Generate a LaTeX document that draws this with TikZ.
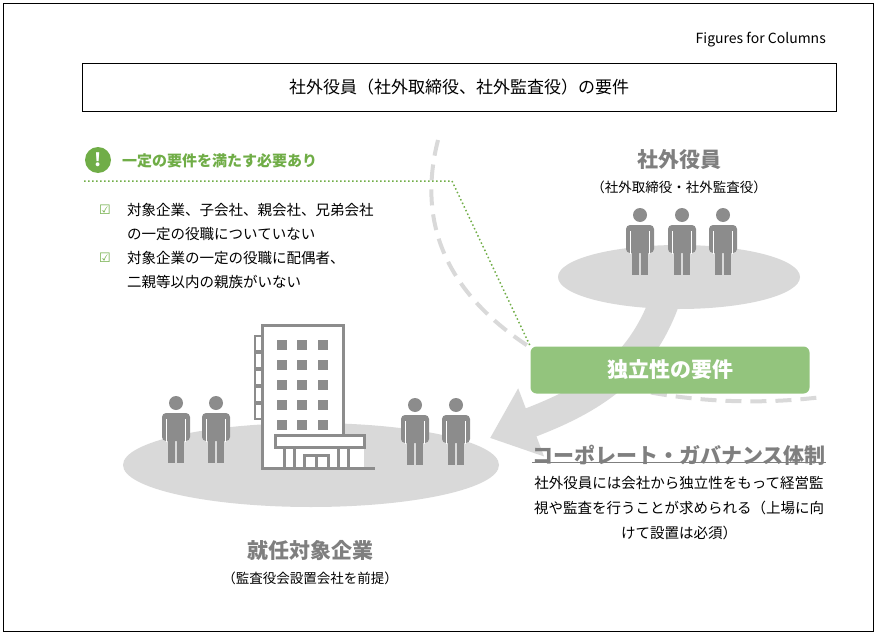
\documentclass[tikz,border=0pt]{standalone}
\usepackage{fontspec}
\setmainfont{Noto Sans CJK JP}
\newfontfamily\symf{DejaVu Sans}
\usetikzlibrary{arrows.meta}
\definecolor{lg}{RGB}{217,217,217}
\definecolor{fg}{RGB}{140,140,140}
\definecolor{tg}{RGB}{127,127,127}
\definecolor{gr}{RGB}{112,173,71}
\definecolor{gb}{RGB}{147,196,125}
\tikzset{
  person/.pic={
    \fill[fg] (0,0) circle (7);
    \fill[fg,rounded corners=4] (-14,10) rectangle (14,38);
    \fill[fg] (-8,30) rectangle (-1,60);
    \fill[fg] (1,30) rectangle (8,60);
    \draw[white,line width=1.2] (-9.5,16) -- (-9.5,39) (9.5,16) -- (9.5,39);
  },
  txt/.style={font=\fontsize{14.5}{16}\selectfont, inner sep=0},
  big/.style={font=\fontsize{21}{23}\selectfont\bfseries, text=tg, inner sep=0},
}
\begin{document}
\begin{tikzpicture}[x=1pt,y=-1pt]
\useasboundingbox (0,0) rectangle (876,634);
\draw[line width=0.8] (3,3) rectangle (873,631);
\node[anchor=east,font=\fontsize{14}{16}\selectfont,inner sep=0] (fc) at (826,40) {Figures for Columns};
\node[draw,line width=0.8,minimum width=754,minimum height=48,font=\fontsize{17}{19}\selectfont] (title) at (459,87) {社外役員（社外取締役、社外監査役）の要件};
% dashed curve
\draw[lg,line width=4,dash pattern=on 16 off 9] (438,140) .. controls (415,230) and (450,310) .. (570,370) .. controls (660,405) and (760,405) .. (822,397);
% ellipses
\fill[lg] (679,277) ellipse (121 and 32);
\fill[lg] (311,465) ellipse (188 and 42);
% big arrow
\draw[lg,line width=30,-{Triangle[length=44,width=70]}] (665,300) .. controls (640,370) and (590,400) .. (490,438);
% green header
\node[circle,fill=gr,minimum size=26,inner sep=0,text=white,font=\fontsize{18}{18}\selectfont\bfseries] (ex) at (98,160) {!};
\node[anchor=west,text=gr,font=\fontsize{15}{17}\selectfont\bfseries,inner sep=0] (req) at (122,161) {一定の要件を満たす必要あり};
\coordinate (d1) at (84,181); \coordinate (d2) at (452,181);
\node[fill=gb,rounded corners=6,minimum width=279,minimum height=47,text=white,font=\fontsize{21}{23}\selectfont\bfseries] (ind) at (670,370) {独立性の要件};
\draw[gr,line width=1.5,dash pattern=on 1.5 off 2.5] (d1) -- (d2) -- (ind.north west);
% checklist
\node[inner sep=0,text=gr,font=\symf\fontsize{13}{14}\selectfont] (c1) at (105,210) {☑};
\node[inner sep=0,text=gr,font=\symf\fontsize{13}{14}\selectfont] (c2) at (105,258) {☑};
\node[txt,anchor=west] (l1) at (127,210) {対象企業、子会社、親会社、兄弟会社};
\node[txt,anchor=west] (l2) at (127,234) {の一定の役職についていない};
\node[txt,anchor=west] (l3) at (127,258) {対象企業の一定の役職に配偶者、};
\node[txt,anchor=west] (l4) at (127,282) {二親等以内の親族がいない};
% right labels
\node[big] (so) at (679,160) {社外役員};
\node[font=\fontsize{13.5}{15}\selectfont,inner sep=0] (sos) at (679,187) {（社外取締役・社外監査役）};
\pic at (640,215) {person};
\pic at (682,215) {person};
\pic at (723,215) {person};
% building
\begin{scope}[fg,line width=3]
\fill[white] (262,325) rectangle (343,468);
\draw (262,325) rectangle (343,468);
\foreach \y in {336,353,370,387,404}{\draw[line width=2.5] (255,\y) rectangle (262,\y+15);}
\foreach \x in {277,297,318}{\foreach \y in {340,360,380,400,420}{\fill (\x,\y) rectangle ++(10,10);}}
\fill[white] (275,435) rectangle (364,468);
\draw (275,435) rectangle (364,447);
\draw (262,468) -- (375,468);
\foreach \x in {284,294,338,348}{\draw (\x,447) -- (\x,468);}
\draw (304,468) -- (304,455) -- (328,455) -- (328,468);
\draw (316,455) -- (316,468);
\end{scope}
\pic at (176,403) {person};
\pic at (216,403) {person};
\pic at (415,405) {person};
\pic at (456,405) {person};
\node[big] (sj) at (310,551) {就任対象企業};
\node[font=\fontsize{13.5}{15}\selectfont,inner sep=0] (sjs) at (310,578) {（監査役会設置会社を前提）};
% governance
\node[big] (cg) at (679,455) {コーポレート・ガバナンス体制};
\draw[tg,line width=1.2] ([yshift=3]cg.south west) -- ([yshift=3]cg.south east);
\node[txt] (g1) at (679,483) {社外役員には会社から独立性をもって経営監};
\node[txt] (g2) at (679,508) {視や監査を行うことが求められる（上場に向};
\node[txt] (g3) at (679,533) {けて設置は必須）};
\end{tikzpicture}
\end{document}
